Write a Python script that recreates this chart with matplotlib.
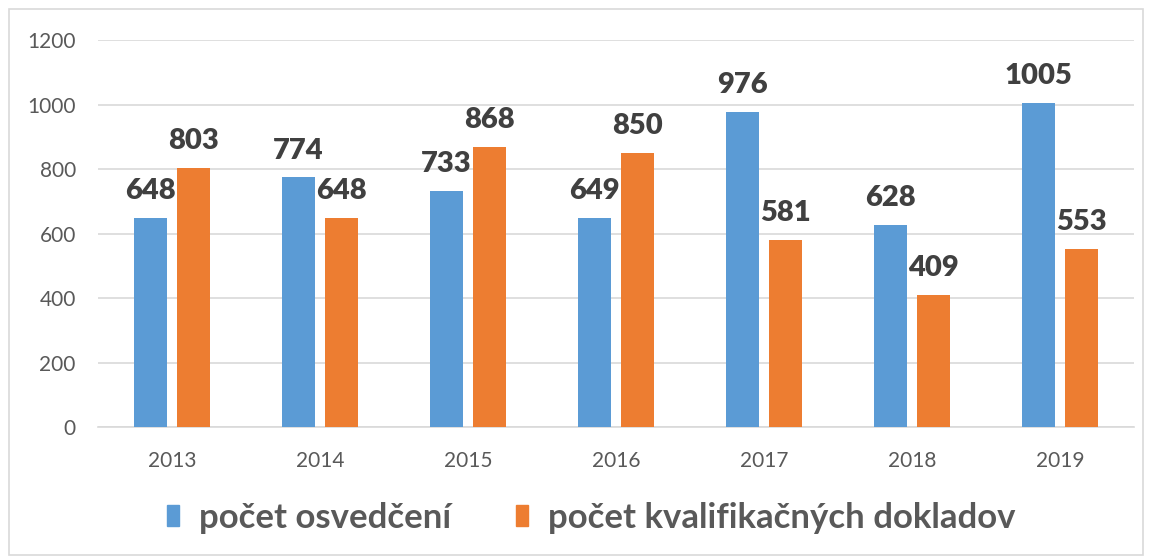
import matplotlib.pyplot as plt
import numpy as np
from matplotlib.patches import Rectangle, Patch

# data
years = ["2013", "2014", "2015", "2016", "2017", "2018", "2019"]
osvedcenia = [648, 774, 733, 649, 976, 628, 1005]
doklady = [803, 648, 868, 850, 581, 409, 553]

blue = "#5B9BD5"
orange = "#ED7D31"
fnt = "Lato"

fig = plt.figure(figsize=(11.5, 5.58), dpi=100)
ax = fig.add_axes([0.0852, 0.2348, 0.9008, 0.6932])

# outer chart border
fig.patches.append(Rectangle((0.008, 0.005), 0.986, 0.978, transform=fig.transFigure,
                             fill=False, edgecolor="#d9d9d9", linewidth=1.2))

x = np.arange(len(years))
w = 0.225
off = 0.145
b1 = ax.bar(x - off, osvedcenia, w, color=blue, zorder=3)
b2 = ax.bar(x + off, doklady, w, color=orange, zorder=3)

for bars, vals in [(b1, osvedcenia), (b2, doklady)]:
    for rect, v in zip(bars, vals):
        ax.annotate(str(v), (rect.get_x() + rect.get_width() / 2, v), xytext=(0, 10),
                    textcoords="offset points", ha="center", va="bottom",
                    fontsize=21, fontweight="heavy", color="#404040", family=fnt)

ax.set_xlim(-0.5, len(years) - 0.5)
ax.set_ylim(0, 1200)
ax.set_yticks(range(0, 1201, 200))
ax.set_xticks(x)
ax.set_xticklabels(years)
ax.yaxis.grid(True, color="#d9d9d9", linewidth=1.2, zorder=0)
for s in ["top", "right", "left"]:
    ax.spines[s].set_visible(False)
ax.spines["bottom"].set_color("#d9d9d9")
ax.spines["bottom"].set_linewidth(1.2)
ax.tick_params(axis="both", length=0, labelsize=15, labelcolor="#595959")
ax.tick_params(axis="y", pad=16)
ax.tick_params(axis="x", pad=17)
for lab in ax.get_xticklabels() + ax.get_yticklabels():
    lab.set_family(fnt)

handles = [Patch(color=blue, label="počet osvedčení"),
           Patch(color=orange, label="počet kvalifikačných dokladov")]
fig.legend(handles=handles, loc="center", bbox_to_anchor=(0.514, 0.072), ncol=2,
           frameon=False, prop={"family": fnt, "size": 25, "weight": "bold"},
           labelcolor="#595959", handlelength=0.35, handleheight=0.58,
           handletextpad=0.58, columnspacing=1.85)

fig.savefig("out.png", dpi=100)
